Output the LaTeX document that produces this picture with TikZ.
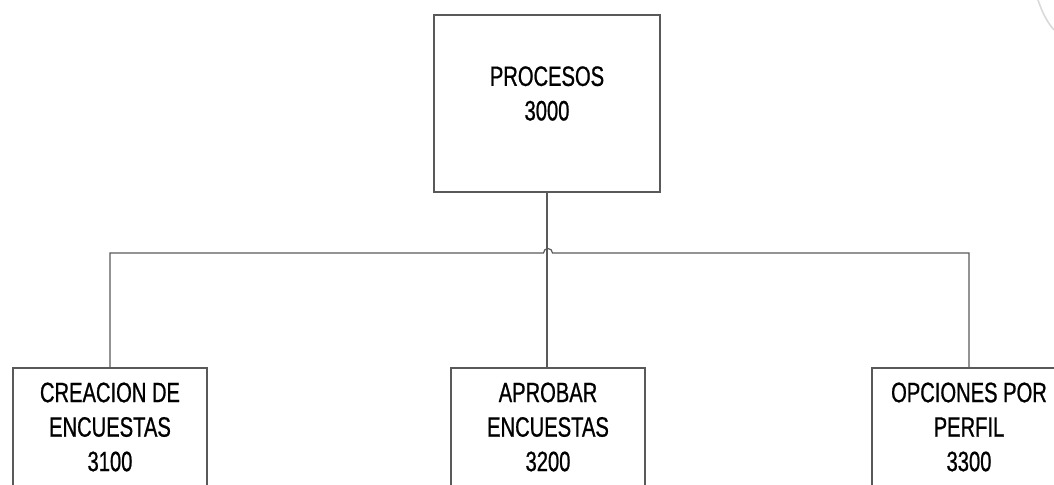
\documentclass[tikz,border=0pt]{standalone}
\usepackage{fontspec}
\newfontfamily\orgfont[FakeStretch=0.72,FakeBold=0.8]{Liberation Sans}
\begin{document}
\begin{tikzpicture}[x=0.5pt,y=-0.5pt,
    orgbox/.style={draw=gray!70!black,line width=0.6pt,minimum width=97pt,inner sep=0pt},
    orgtext/.style={align=center,font=\orgfont\fontsize{14}{17.25}\selectfont},
    wire/.style={draw=gray!70!black,line width=0.6pt}]
  \useasboundingbox (0,0) rectangle (1054,485);
  \clip (0,0) rectangle (1054,485);
  \node[orgbox,minimum width=113pt,minimum height=88.5pt] (proc) at (547,103.5) {};
  \node[orgtext] (proclbl) at (547,93.5) {PROCESOS\\3000};
  \node[orgbox,orgtext,minimum height=59pt] (crea) at (110,427) {CREACION DE\\ENCUESTAS\\3100};
  \node[orgbox,orgtext,minimum height=59pt] (apro) at (548,427) {APROBAR\\ENCUESTAS\\3200};
  \node[orgbox,orgtext,minimum height=59pt] (opci) at (969,427) {OPCIONES POR\\PERFIL\\3300};
  \coordinate (bus) at (548,253);
  \draw[wire] (proc.south) -- (proc.south |- apro.north);
  \draw[wire] (crea.north) |- ([xshift=-2.25pt]bus) arc[start angle=180,end angle=360,radius=4.5] -| (opci.north);
  \draw[gray!30,line width=0.8pt] (1038,0) .. controls (1042,12) and (1047,22) .. (1054,30);
\end{tikzpicture}
\end{document}
